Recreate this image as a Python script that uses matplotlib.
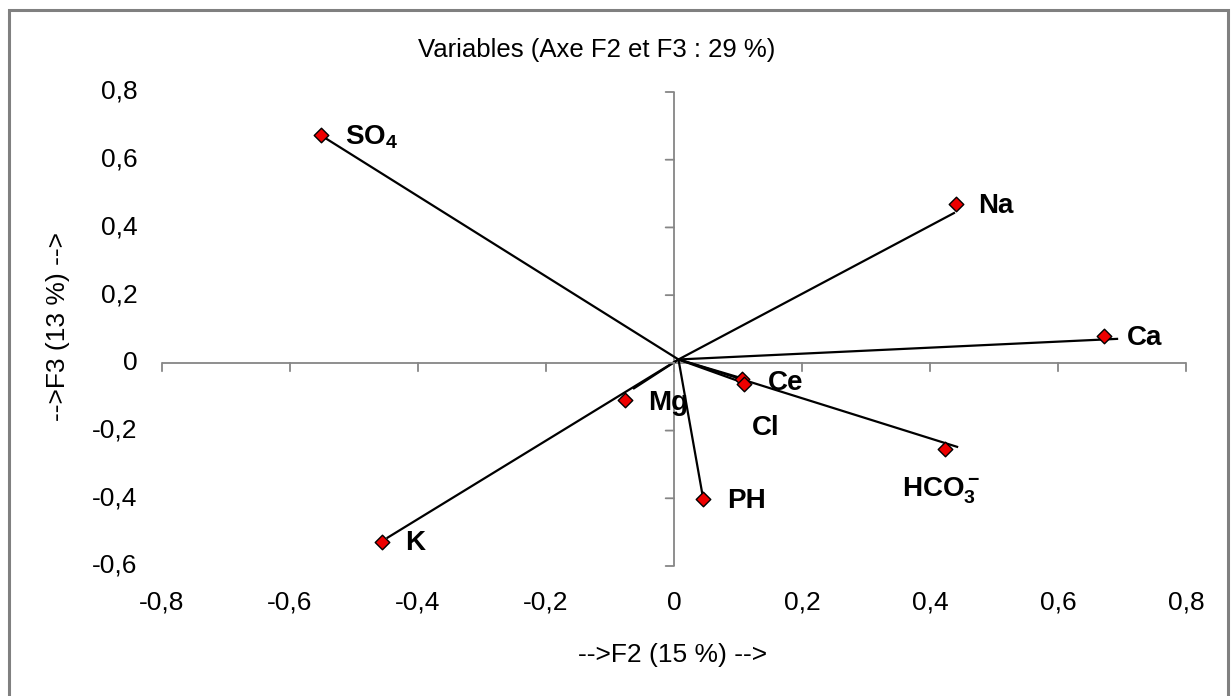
import matplotlib
matplotlib.use("Agg")
import matplotlib.pyplot as plt
import matplotlib.transforms as mtransforms
from matplotlib.patches import Rectangle

# ================= DATA =================

variables = ["SO4", "Na", "Ca", "Mg", "Ce", "Cl", "HCO3", "K", "PH"]
label_text = [r"$\mathbf{SO_4}$", "Na", "Ca", "Mg", "Ce", "Cl",
              r"$\mathbf{HCO_3^-}$", "K", "PH"]

# marker coordinates (F2, F3)
f2 = [-0.552, 0.441, 0.672, -0.077, 0.106, 0.110, 0.423, -0.456, 0.045]
f3 = [0.672, 0.470, 0.080, -0.109, -0.048, -0.062, -0.254, -0.530, -0.402]

# end points of the vectors (drawn slightly off the markers in the original)
vec_f2 = [-0.550, 0.439, 0.694, -0.064, 0.105, 0.110, 0.444, -0.449, 0.045]
vec_f3 = [0.670, 0.444, 0.071, -0.077, -0.045, -0.060, -0.249, -0.518, -0.395]
vec_origin = (0.007, 0.010)

# label anchor points (left edge, vertical centre)
lab_f2 = [-0.514, 0.475, 0.708, -0.041, 0.147, 0.122, 0.356, -0.420, 0.083]
lab_f3 = [0.666, 0.464, 0.074, -0.118, -0.059, -0.192, -0.379, -0.533, -0.408]

xticks = [-0.8, -0.6, -0.4, -0.2, 0, 0.2, 0.4, 0.6, 0.8]
yticks = [-0.6, -0.4, -0.2, 0, 0.2, 0.4, 0.6, 0.8]

title = "Variables (Axe F2 et F3 : 29 %)"
xlabel = "-->F2 (15 %) -->"
ylabel = "-->F3 (13 %) -->"

# ================= STYLE =================

plt.rcParams["font.family"] = ["Liberation Sans", "DejaVu Sans"]
plt.rcParams["mathtext.fontset"] = "custom"
plt.rcParams["mathtext.rm"] = "Liberation Sans"
plt.rcParams["mathtext.bf"] = "Liberation Sans:bold"
plt.rcParams["mathtext.it"] = "Liberation Sans:italic"

FS = 19
FS_TITLE = 18.5
FS_LAB = 20
AXIS_GREY = "#868686"


def fmt(v):
    if v == 0:
        return "0"
    return f"{v:.1f}".replace(".", ",")


# ================= PLOT =================

W, H = 1231, 696
fig = plt.figure(figsize=(W / 100, H / 100), dpi=100)
ax = fig.add_axes([162 / W, 1 - 566 / H, (1186 - 162) / W, (566 - 92) / H])
ax.set_xlim(-0.8, 0.8)
ax.set_ylim(-0.6, 0.8)
ax.axis("off")

# zero axes
ax.plot([xticks[0], xticks[-1]], [0, 0], color=AXIS_GREY, lw=1.3, zorder=1)
ax.plot([0, 0], [yticks[0], yticks[-1]], color=AXIS_GREY, lw=1.3, zorder=1)

# tick marks (offsets in points)
for v in xticks:
    ax.annotate("", xy=(v, 0), xytext=(0, -6), textcoords="offset points",
                arrowprops=dict(arrowstyle="-", color=AXIS_GREY, lw=1.3,
                                shrinkA=0, shrinkB=0))
for v in yticks:
    ax.annotate("", xy=(0, v), xytext=(-6, 0), textcoords="offset points",
                arrowprops=dict(arrowstyle="-", color=AXIS_GREY, lw=1.3,
                                shrinkA=0, shrinkB=0))

# tick labels along the plot edges
bx = mtransforms.blended_transform_factory(ax.transData, ax.transAxes)
by = mtransforms.blended_transform_factory(ax.transAxes, ax.transData)
for v in xticks:
    ax.text(v, -0.078, fmt(v), transform=bx, ha="center", va="center",
            fontsize=FS, clip_on=False)
for v in yticks:
    ax.text(-0.024, v, fmt(v), transform=by, ha="right", va="center",
            fontsize=FS, clip_on=False)

# vectors
for x, y in zip(vec_f2, vec_f3):
    ax.plot([vec_origin[0], x], [vec_origin[1], y], color="black", lw=1.6,
            zorder=2, solid_capstyle="butt")

# markers
ax.scatter(f2, f3, marker="D", s=55, color="#ee0000", edgecolor="black",
           linewidth=1.0, zorder=3, clip_on=False)

# labels
for txt, x, y in zip(label_text, lab_f2, lab_f3):
    ax.text(x, y, txt, fontsize=FS_LAB, fontweight="bold", ha="left",
            va="center", zorder=4, clip_on=False)

fig.text(597 / W, 1 - 50 / H, title, ha="center", va="center",
         fontsize=FS_TITLE)
fig.text(673 / W, 1 - 655 / H, xlabel, ha="center", va="center", fontsize=FS)
fig.text(58 / W, 1 - 326 / H, ylabel, ha="center", va="center", fontsize=FS,
         rotation=90)

# outer frame
fig.patches.append(Rectangle((9 / W, -0.05), (1228 - 9) / W, 1.05 - 10 / H,
                             transform=fig.transFigure, fill=False,
                             edgecolor="#808080", lw=2.2))

fig.savefig("out.png", dpi=100)
